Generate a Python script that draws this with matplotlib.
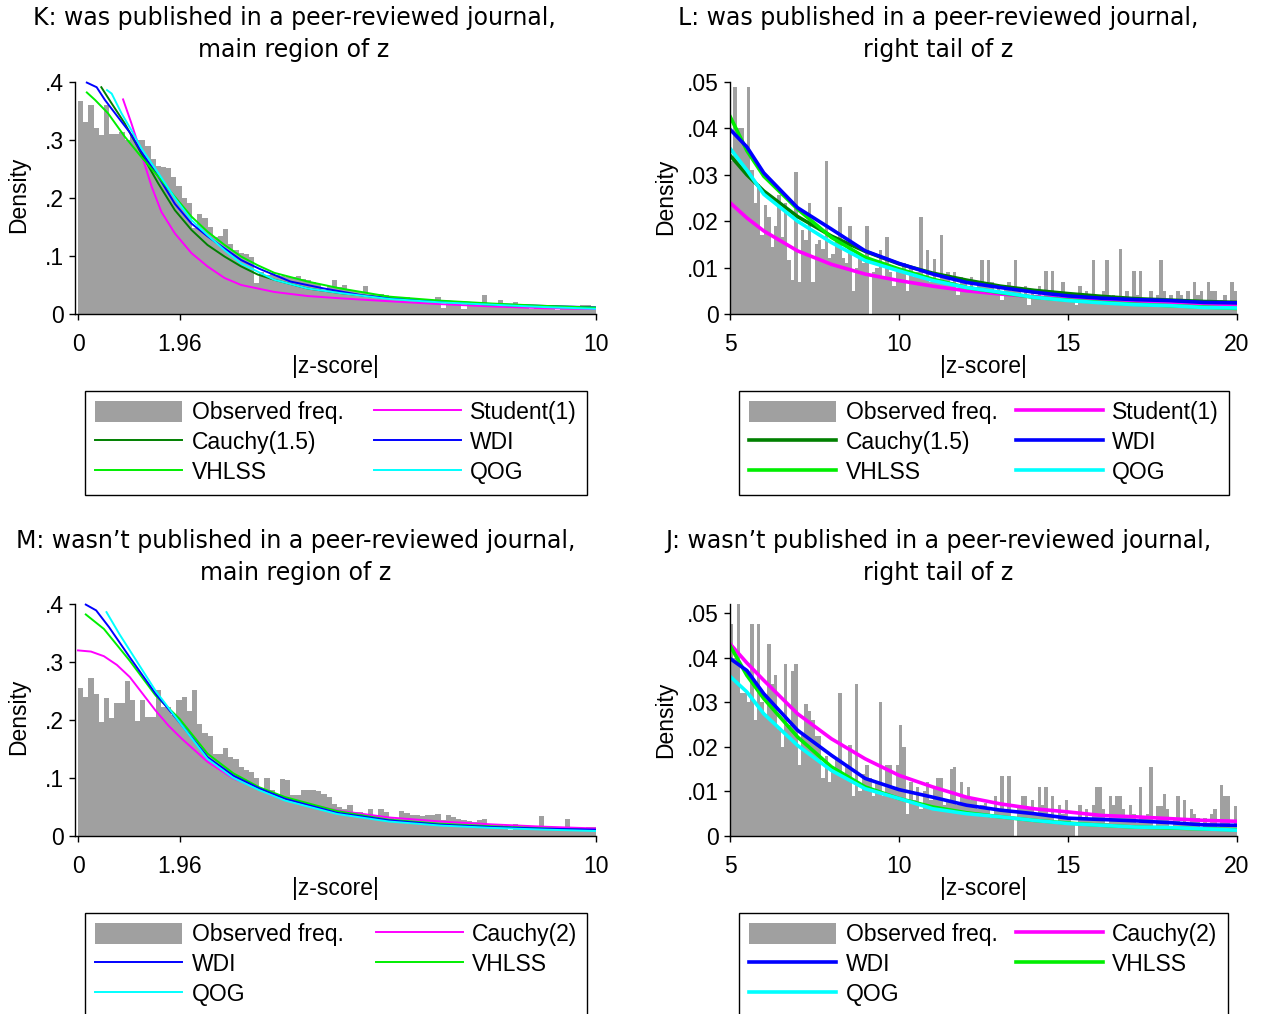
import matplotlib
matplotlib.use('Agg')
import matplotlib.pyplot as plt
from matplotlib.patches import Patch
from matplotlib.lines import Line2D
import numpy as np

plt.rcParams['font.family'] = ['Liberation Sans', 'DejaVu Sans']

W, H = 1262, 1014

# colours (stata-like)
C_BAR = '#a0a0a0'
C_MAG = '#ff00ff'
C_CAU = '#008000'
C_WDI = '#0000ff'
C_VHL = '#00ee00'
C_QOG = '#00ffff'

# histograms, bin width 0.1 (main region starts at 0, tail at 5)
BIN_W = 0.1
hist_K = [0.367, 0.331, 0.361, 0.321, 0.308, 0.360, 0.311, 0.311, 0.314, 0.300,
          0.311, 0.300, 0.300, 0.289, 0.268, 0.256, 0.254, 0.251, 0.237, 0.220,
          0.200, 0.191, 0.148, 0.172, 0.165, 0.150, 0.133, 0.134, 0.146, 0.120,
          0.110, 0.105, 0.103, 0.099, 0.053, 0.073, 0.067, 0.070, 0.068, 0.066,
          0.064, 0.063, 0.065, 0.060, 0.058, 0.055, 0.052, 0.040, 0.048, 0.058,
          0.046, 0.050, 0.042, 0.040, 0.038, 0.048, 0.036, 0.035, 0.034, 0.033,
          0.031, 0.030, 0.029, 0.030, 0.027, 0.026, 0.025, 0.026, 0.024, 0.030,
          0.010, 0.022, 0.021, 0.020, 0.009, 0.020, 0.019, 0.018, 0.033, 0.019,
          0.018, 0.025, 0.016, 0.016, 0.020, 0.015, 0.015, 0.008, 0.014, 0.014,
          0.013, 0.013, 0.007, 0.012, 0.012, 0.012, 0.011, 0.016, 0.015, 0.011]

hist_L = [0.033, 0.049, 0.040, 0.040, 0.036, 0.049, 0.031, 0.024, 0.028, 0.017,
          0.0235, 0.021, 0.0145, 0.019, 0.0257, 0.0167, 0.024, 0.0116, 0.0073, 0.0307,
          0.007, 0.018, 0.016, 0.024, 0.007, 0.015, 0.016, 0.014, 0.033, 0.012,
          0.013, 0.016, 0.023, 0.012, 0.011, 0.019, 0.005, 0.010, 0.012, 0.011,
          0.019, 0.0, 0.009, 0.010, 0.0138, 0.008, 0.0165, 0.009, 0.006, 0.010,
          0.009, 0.011, 0.005, 0.010, 0.008, 0.009, 0.021, 0.008, 0.0138, 0.007,
          0.0118, 0.007, 0.017, 0.008, 0.009, 0.007, 0.009, 0.004, 0.008, 0.007,
          0.006, 0.008, 0.005, 0.007, 0.0117, 0.006, 0.0117, 0.007, 0.004, 0.006,
          0.003, 0.006, 0.007, 0.005, 0.0117, 0.005, 0.004, 0.006, 0.002, 0.005,
          0.004, 0.006, 0.003, 0.0092, 0.005, 0.0092, 0.004, 0.003, 0.007, 0.004,
          0.003, 0.004, 0.002, 0.006, 0.003, 0.005, 0.004, 0.0117, 0.003, 0.004,
          0.005, 0.0117, 0.003, 0.004, 0.002, 0.014, 0.003, 0.005, 0.002, 0.0092,
          0.004, 0.0092, 0.003, 0.002, 0.005, 0.003, 0.004, 0.0117, 0.005, 0.002,
          0.004, 0.003, 0.005, 0.004, 0.002, 0.005, 0.003, 0.007, 0.004, 0.005,
          0.003, 0.007, 0.005, 0.005, 0.002, 0.003, 0.004, 0.002, 0.007, 0.005]

hist_M = [0.255, 0.239, 0.273, 0.245, 0.197, 0.238, 0.203, 0.229, 0.229, 0.268,
          0.234, 0.199, 0.234, 0.205, 0.205, 0.252, 0.222, 0.222, 0.208, 0.235,
          0.239, 0.216, 0.251, 0.193, 0.177, 0.172, 0.142, 0.142, 0.152, 0.136,
          0.133, 0.119, 0.113, 0.111, 0.100, 0.080, 0.100, 0.080, 0.072, 0.098,
          0.097, 0.070, 0.070, 0.079, 0.080, 0.080, 0.077, 0.072, 0.067, 0.056,
          0.050, 0.047, 0.053, 0.041, 0.041, 0.037, 0.047, 0.034, 0.047, 0.041,
          0.033, 0.030, 0.043, 0.040, 0.036, 0.037, 0.034, 0.037, 0.037, 0.038,
          0.027, 0.037, 0.033, 0.029, 0.027, 0.026, 0.025, 0.027, 0.030, 0.021,
          0.021, 0.021, 0.018, 0.010, 0.021, 0.018, 0.018, 0.018, 0.017, 0.034,
          0.017, 0.015, 0.015, 0.015, 0.029, 0.014, 0.014, 0.014, 0.015, 0.015]

hist_J = [0.0476, 0.040, 0.052, 0.032, 0.032, 0.030, 0.0476, 0.026, 0.0476, 0.030,
          0.027, 0.043, 0.034, 0.036, 0.024, 0.020, 0.0386, 0.025, 0.037, 0.0386,
          0.016, 0.023, 0.0295, 0.028, 0.026, 0.0225, 0.0225, 0.013, 0.018, 0.012,
          0.015, 0.017, 0.032, 0.014, 0.016, 0.0205, 0.009, 0.034, 0.010, 0.014,
          0.016, 0.013, 0.009, 0.012, 0.030, 0.009, 0.016, 0.016, 0.011, 0.016,
          0.025, 0.020, 0.005, 0.012, 0.008, 0.011, 0.006, 0.010, 0.012, 0.008,
          0.011, 0.013, 0.013, 0.007, 0.008, 0.015, 0.0155, 0.007, 0.012, 0.009,
          0.011, 0.008, 0.008, 0.006, 0.007, 0.0075, 0.006, 0.004, 0.009, 0.006,
          0.0135, 0.006, 0.0135, 0.004, 0.0, 0.007, 0.009, 0.009, 0.006, 0.008,
          0.005, 0.011, 0.007, 0.011, 0.005, 0.009, 0.003, 0.007, 0.005, 0.008,
          0.004, 0.003, 0.0, 0.007, 0.004, 0.006, 0.004, 0.007, 0.011, 0.011,
          0.006, 0.003, 0.009, 0.007, 0.009, 0.009, 0.006, 0.004, 0.007, 0.005,
          0.003, 0.011, 0.004, 0.005, 0.0155, 0.002, 0.0068, 0.0068, 0.0095, 0.006,
          0.002, 0.004, 0.009, 0.003, 0.008, 0.003, 0.006, 0.005, 0.004, 0.002,
          0.004, 0.003, 0.005, 0.006, 0.002, 0.0115, 0.009, 0.009, 0.002, 0.0068]

# fitted / simulated densities
# panel K
K_stud_x = [0.87, 1.03, 1.22, 1.42, 1.61, 1.87, 2.19, 2.5, 2.83, 3.15, 3.79, 4.43, 5.07, 6, 7, 8, 9, 10]
K_stud_y = [0.370, 0.329, 0.277, 0.220, 0.176, 0.139, 0.105, 0.082, 0.062, 0.050, 0.038, 0.031, 0.027, 0.022, 0.017, 0.013, 0.010, 0.0085]
K_cau_x = [0.45, 0.65, 0.9, 1.22, 1.55, 1.87, 2.19, 2.5, 2.83, 3.15, 3.47, 3.79, 4.43, 5.07, 6, 7, 8, 9, 10]
K_cau_y = [0.391, 0.363, 0.329, 0.277, 0.225, 0.179, 0.145, 0.119, 0.099, 0.082, 0.068, 0.059, 0.044, 0.036, 0.027, 0.021, 0.016, 0.013, 0.0105]
K_wdi_x = [0.17, 0.36, 0.52, 0.75, 1.0, 1.22, 1.55, 1.87, 2.19, 2.5, 2.83, 3.15, 3.5, 4.1, 4.75, 5.5, 6, 7, 8, 9, 10]
K_wdi_y = [0.399, 0.391, 0.369, 0.342, 0.313, 0.280, 0.237, 0.190, 0.156, 0.134, 0.113, 0.093, 0.078, 0.056, 0.044, 0.032, 0.0275, 0.022, 0.017, 0.014, 0.0115]
K_vhl_x = [0.17, 0.33, 0.58, 0.9, 1.22, 1.55, 1.87, 2.19, 2.5, 2.83, 3.15, 3.47, 3.79, 4.43, 5.07, 6, 7, 8, 9, 10]
K_vhl_y = [0.382, 0.369, 0.346, 0.306, 0.271, 0.237, 0.202, 0.168, 0.142, 0.119, 0.099, 0.084, 0.071, 0.056, 0.044, 0.030, 0.023, 0.018, 0.014, 0.011]
K_qog_x = [0.56, 0.65, 0.84, 1.03, 1.22, 1.55, 1.87, 2.19, 2.5, 2.83, 3.15, 3.47, 3.79, 4.43, 5.07, 6, 7, 8, 9, 10]
K_qog_y = [0.386, 0.380, 0.346, 0.317, 0.286, 0.243, 0.200, 0.162, 0.136, 0.110, 0.087, 0.073, 0.059, 0.044, 0.036, 0.026, 0.020, 0.016, 0.012, 0.009]

# panel L
L_x = [5, 5.5, 6, 7, 8, 9, 10, 11, 12, 13, 14, 15, 16, 17, 18, 19, 20]
L_stud_y = [0.0240, 0.0207, 0.0179, 0.0136, 0.0107, 0.0086, 0.0072, 0.0060, 0.0050, 0.0043, 0.0037, 0.0033, 0.0029, 0.0026, 0.0023, 0.0021, 0.0019]
L_cau_y = [0.0342, 0.0300, 0.0265, 0.0210, 0.0168, 0.0135, 0.0108, 0.0088, 0.0073, 0.0060, 0.0051, 0.0044, 0.0038, 0.0033, 0.0030, 0.0027, 0.0025]
L_wdi_y = [0.0398, 0.0360, 0.0304, 0.0229, 0.0183, 0.0136, 0.0109, 0.0086, 0.0068, 0.0057, 0.0047, 0.0039, 0.0034, 0.0031, 0.0029, 0.0025, 0.0024]
L_vhl_y = [0.0426, 0.0352, 0.0297, 0.0226, 0.0165, 0.0122, 0.0097, 0.0075, 0.0057, 0.0046, 0.0036, 0.0030, 0.0025, 0.0021, 0.0018, 0.0015, 0.0012]
L_qog_y = [0.0357, 0.0310, 0.0258, 0.0200, 0.0154, 0.0115, 0.0093, 0.0072, 0.0057, 0.0047, 0.0036, 0.0029, 0.0024, 0.0020, 0.0018, 0.0014, 0.0013]

# panel M
M_cau_x = [0, 0.25, 0.5, 0.75, 1.0, 1.25, 1.5, 1.75, 2.0, 2.5, 3, 4, 5, 6, 7, 8, 9, 10]
M_cau_y = [0.320, 0.318, 0.310, 0.295, 0.274, 0.245, 0.216, 0.190, 0.168, 0.128, 0.099, 0.064, 0.044, 0.032, 0.025, 0.020, 0.016, 0.013]
M_wdi_x = [0.15, 0.35, 0.6, 1.0, 1.5, 1.96, 2.5, 3, 3.5, 4, 5, 6, 7, 8, 9, 10]
M_wdi_y = [0.399, 0.389, 0.360, 0.308, 0.245, 0.196, 0.136, 0.104, 0.082, 0.064, 0.040, 0.027, 0.0195, 0.0155, 0.0126, 0.011]
M_vhl_x = [0.15, 0.5, 1.0, 1.5, 1.96, 2.5, 3, 3.5, 4, 5, 6, 7, 8, 9, 10]
M_vhl_y = [0.382, 0.357, 0.302, 0.242, 0.202, 0.142, 0.108, 0.084, 0.067, 0.043, 0.028, 0.021, 0.0166, 0.013, 0.0098]
M_qog_x = [0.55, 0.8, 1.0, 1.5, 1.96, 2.5, 3, 3.5, 4, 5, 6, 7, 8, 9, 10]
M_qog_y = [0.386, 0.348, 0.320, 0.250, 0.196, 0.133, 0.100, 0.079, 0.061, 0.038, 0.025, 0.018, 0.014, 0.011, 0.0086]

# panel J
J_x = [5, 5.5, 6, 7, 8, 9, 10, 11, 12, 13, 14, 15, 16, 17, 18, 19, 20]
J_cau_y = [0.0431, 0.0388, 0.0349, 0.0274, 0.0218, 0.0173, 0.0136, 0.0110, 0.0087, 0.0072, 0.0061, 0.0054, 0.0046, 0.0043, 0.0039, 0.0035, 0.0033]
J_wdi_y = [0.0398, 0.0371, 0.0319, 0.0237, 0.0181, 0.0129, 0.0104, 0.0087, 0.0069, 0.0058, 0.0050, 0.0040, 0.0037, 0.0034, 0.0030, 0.0025, 0.0024]
J_vhl_y = [0.0427, 0.0360, 0.0308, 0.0222, 0.0155, 0.0110, 0.0084, 0.0065, 0.0052, 0.0043, 0.0035, 0.0029, 0.0024, 0.0020, 0.0018, 0.0016, 0.0014]
J_qog_y = [0.0358, 0.0323, 0.0274, 0.0203, 0.0147, 0.0106, 0.0084, 0.0061, 0.0050, 0.0043, 0.0035, 0.0028, 0.0024, 0.0020, 0.0019, 0.0016, 0.0013]

main_ticks = [0, 1.96, 10]
main_ticklabels = ['0', '1.96', '10']
tail_ticks = [5, 10, 15, 20]
main_yticks = [0, 0.1, 0.2, 0.3, 0.4]
main_yticklabels = ['0', '.1', '.2', '.3', '.4']
tail_yticks = [0, 0.01, 0.02, 0.03, 0.04, 0.05]
tail_yticklabels = ['0', '.01', '.02', '.03', '.04', '.05']

titles = {
    'K': ('K: was published in a peer-reviewed journal,', 'main region of z'),
    'L': ('L: was published in a peer-reviewed journal,', 'right tail of z'),
    'M': ('M: wasn\u2019t published in a peer-reviewed journal,', 'main region of z'),
    'J': ('J: wasn\u2019t published in a peer-reviewed journal,', 'right tail of z'),
}

fig = plt.figure(figsize=(W / 100, H / 100), dpi=100)


def fx(px):
    return px / W


def fy(py):
    return 1 - py / H


def make_axes(left_px, right_px, zero_py, px_per_unit, ymax):
    h = ymax * px_per_unit
    return fig.add_axes([fx(left_px), fy(zero_py), (right_px - left_px) / W, h / H])


def style_axes(ax, xlim, ylim, spine_top, xt, xtl, yt, ytl, ylab_x, h_px):
    ax.set_xlim(*xlim)
    ax.set_ylim(*ylim)
    for s in ['top', 'right']:
        ax.spines[s].set_visible(False)
    ax.spines['left'].set_bounds(0, spine_top)
    ax.spines['left'].set_linewidth(1.0)
    ax.spines['bottom'].set_linewidth(1.0)
    ax.set_xticks(xt)
    ax.set_xticklabels(xtl)
    ax.set_yticks(yt)
    ax.set_yticklabels(ytl)
    ax.tick_params(axis='both', direction='out', length=4, width=1, labelsize=16.5)
    ax.tick_params(axis='x', pad=9.5)
    ax.tick_params(axis='y', pad=4)
    ax.set_ylabel('Density', fontsize=16.5)
    ax.yaxis.set_label_coords(ylab_x, 0.5)
    ax.set_xlabel('|z-score|', fontsize=16.5)
    ax.xaxis.set_label_coords(0.5, -41.0 / h_px)


def add_title(key, cx, y1, y2):
    l1, l2 = titles[key]
    fig.text(fx(cx), fy(y1), l1, ha='center', va='center', fontsize=17, family='DejaVu Sans')
    fig.text(fx(cx), fy(y2), l2, ha='center', va='center', fontsize=17, family='DejaVu Sans')


def add_legend(items, left_px, top_px, lw, colsp):
    handles = []
    labels = []
    for lab, col in items:
        if col == C_BAR:
            handles.append(Patch(facecolor=C_BAR, edgecolor='none'))
        else:
            handles.append(Line2D([], [], color=col, lw=lw))
        labels.append(lab)
    # legend is filled column-wise, reorder so it reads row-wise
    order = list(range(0, len(items), 2)) + list(range(1, len(items), 2))
    leg = fig.legend([handles[i] for i in order], [labels[i] for i in order],
                     loc='upper left', bbox_to_anchor=(fx(left_px), fy(top_px)),
                     bbox_transform=fig.transFigure, ncol=2, fontsize=16.5,
                     handlelength=3.8, handleheight=1.0, handletextpad=0.4,
                     labelspacing=0.3, columnspacing=colsp, borderpad=0.45,
                     borderaxespad=0, frameon=True, fancybox=False, framealpha=1)
    leg.get_frame().set_edgecolor('black')
    leg.get_frame().set_linewidth(1.0)


main_edges = 0 + BIN_W * np.arange(len(hist_K))
tail_edges = 5 + BIN_W * np.arange(len(hist_L))

# ---------- K ----------
axK = make_axes(74.9, 596, 314, 580, 0.41)
axK.bar(main_edges, hist_K, width=BIN_W, align='edge', color=C_BAR, lw=0)
axK.plot(K_stud_x, K_stud_y, color=C_MAG, lw=1.4)
axK.plot(K_cau_x, K_cau_y, color=C_CAU, lw=1.4)
axK.plot(K_wdi_x, K_wdi_y, color=C_WDI, lw=1.4)
axK.plot(K_vhl_x, K_vhl_y, color=C_VHL, lw=1.4)
axK.plot(K_qog_x, K_qog_y, color=C_QOG, lw=1.4)
style_axes(axK, (-0.06, 10), (0, 0.41), 0.4, main_ticks, main_ticklabels,
           main_yticks, main_yticklabels, -0.085, 0.41 * 580)
add_title('K', 294, 18, 50)
add_legend([('Observed freq.', C_BAR), ('Student(1)', C_MAG), ('Cauchy(1.5)', C_CAU),
            ('WDI', C_WDI), ('VHLSS', C_VHL), ('QOG', C_QOG)], 85, 391, 1.4, 1.32)

# ---------- L ----------
axL = make_axes(730, 1237, 314, 4640, 0.0505)
axL.bar(tail_edges, hist_L, width=BIN_W, align='edge', color=C_BAR, lw=0)
axL.plot(L_x, L_stud_y, color=C_MAG, lw=2.6)
axL.plot(L_x, L_cau_y, color=C_CAU, lw=2.6)
axL.plot(L_x, L_vhl_y, color=C_VHL, lw=2.6)
axL.plot(L_x, L_wdi_y, color=C_WDI, lw=2.6)
axL.plot(L_x, L_qog_y, color=C_QOG, lw=2.6)
style_axes(axL, (5, 20), (0, 0.0505), 0.05, tail_ticks, [str(t) for t in tail_ticks],
           tail_yticks, tail_yticklabels, -0.105, 0.0505 * 4640)
add_title('L', 938, 18, 50)
add_legend([('Observed freq.', C_BAR), ('Student(1)', C_MAG), ('Cauchy(1.5)', C_CAU),
            ('WDI', C_WDI), ('VHLSS', C_VHL), ('QOG', C_QOG)], 739, 391, 2.6, 0.8)

# ---------- M ----------
axM = make_axes(74.9, 596, 836, 580, 0.41)
axM.bar(main_edges, hist_M, width=BIN_W, align='edge', color=C_BAR, lw=0)
axM.plot(M_cau_x, M_cau_y, color=C_MAG, lw=1.4)
axM.plot(M_vhl_x, M_vhl_y, color=C_VHL, lw=1.4)
axM.plot(M_wdi_x, M_wdi_y, color=C_WDI, lw=1.4)
axM.plot(M_qog_x, M_qog_y, color=C_QOG, lw=1.4)
style_axes(axM, (-0.06, 10), (0, 0.41), 0.4, main_ticks, main_ticklabels,
           main_yticks, main_yticklabels, -0.085, 0.41 * 580)
add_title('M', 296, 541, 573)
add_legend([('Observed freq.', C_BAR), ('Cauchy(2)', C_MAG), ('WDI', C_WDI),
            ('VHLSS', C_VHL), ('QOG', C_QOG)], 85, 913, 1.4, 1.4)

# ---------- J ----------
axJ = make_axes(730, 1237, 836, 4460, 0.052)
axJ.bar(tail_edges, hist_J, width=BIN_W, align='edge', color=C_BAR, lw=0)
axJ.plot(J_x, J_cau_y, color=C_MAG, lw=2.6)
axJ.plot(J_x, J_vhl_y, color=C_VHL, lw=2.6)
axJ.plot(J_x, J_wdi_y, color=C_WDI, lw=2.6)
axJ.plot(J_x, J_qog_y, color=C_QOG, lw=2.6)
style_axes(axJ, (5, 20), (0, 0.052), 0.052, tail_ticks, [str(t) for t in tail_ticks],
           tail_yticks, tail_yticklabels, -0.105, 0.052 * 4460)
add_title('J', 938, 541, 573)
add_legend([('Observed freq.', C_BAR), ('Cauchy(2)', C_MAG), ('WDI', C_WDI),
            ('VHLSS', C_VHL), ('QOG', C_QOG)], 739, 913, 2.6, 0.8)

fig.savefig('out.png', dpi=100)
